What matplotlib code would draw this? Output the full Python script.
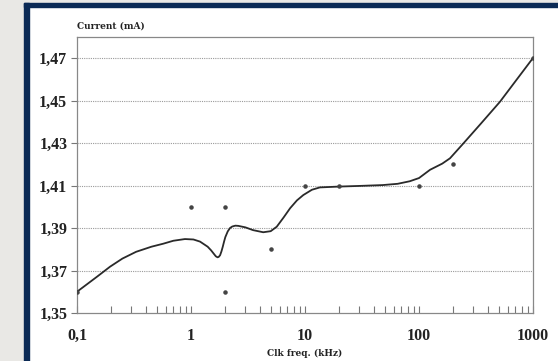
import matplotlib.pyplot as plt
from matplotlib.patches import Rectangle
from matplotlib.ticker import FixedLocator, LogLocator, NullFormatter

# measured points (dots)
pts_freq = [0.1, 1, 2, 2, 5, 10, 20, 100, 200, 1000]
pts_current = [1.36, 1.40, 1.40, 1.36, 1.38, 1.41, 1.41, 1.41, 1.42, 1.47]

# fitted curve
curve_freq = [0.1, 0.15, 0.195, 0.25, 0.33, 0.45, 0.57, 0.7, 0.885, 1.05, 1.2,
              1.4, 1.5, 1.6, 1.65, 1.71, 1.75, 1.8, 1.85, 1.9, 1.95, 2.0, 2.1,
              2.2, 2.3, 2.45, 2.6, 3.0, 3.5, 4.3, 5.0, 5.65, 6.5, 7.4, 8.5,
              9.66, 11.5, 13.5, 20, 30, 48, 65, 83, 100, 125, 160, 187, 245,
              350, 513, 700, 1000]
curve_current = [1.3600, 1.3671, 1.3718, 1.3756, 1.3788, 1.3812, 1.3826, 1.3840,
                 1.3848, 1.3846, 1.3836, 1.3812, 1.3795, 1.3776, 1.3767, 1.3762,
                 1.3764, 1.3772, 1.3790, 1.3812, 1.3836, 1.3857, 1.3884,
                 1.3900, 1.3907, 1.3911, 1.3910, 1.3903, 1.3890, 1.3880, 1.3885,
                 1.3906, 1.3950, 1.3993, 1.4030, 1.4055, 1.4080, 1.4091, 1.4095,
                 1.4098, 1.4102, 1.4108, 1.4120, 1.4135, 1.4174, 1.4203, 1.4228,
                 1.4298, 1.4392, 1.4494, 1.4590, 1.4700]

y_ticks = [1.35, 1.37, 1.39, 1.41, 1.43, 1.45, 1.47]
y_labels = ['1,35', '1,37', '1,39', '1,41', '1,43', '1,45', '1,47']
x_ticks = [0.1, 1, 10, 100, 1000]
x_labels = ['0,1', '1', '10', '100', '1000']

W, H = 558, 361
fig = plt.figure(figsize=(W / 100, H / 100), dpi=100)
fig.patch.set_facecolor('white')

# background and navy frame
fig.patches.append(Rectangle((0, 0), 24 / W, 1, transform=fig.transFigure,
                             color='#e9e8e5', zorder=0))
fig.patches.append(Rectangle((24 / W, 1 - 3 / H), 1, 3 / H, transform=fig.transFigure,
                             color='#e9e8e5', zorder=0))
fig.patches.append(Rectangle((24 / W, 0), 5 / W, 1 - 3 / H, transform=fig.transFigure,
                             color='#0b2a55', zorder=1))
fig.patches.append(Rectangle((24 / W, 1 - 7 / H), 1, 4 / H, transform=fig.transFigure,
                             color='#0b2a55', zorder=1))

ax = fig.add_axes([77 / W, 1 - 313 / H, (533 - 77) / W, (313 - 37) / H])
ax.set_xscale('log')
ax.set_xlim(0.1, 1000)
ax.set_ylim(1.35, 1.35 + 0.02 * (313 - 37) / 42.5)

for v in y_ticks[1:]:
    ax.axhline(v, color='#9a9a9a', lw=0.8, ls=(0, (1, 1)), zorder=1)

ax.plot(curve_freq, curve_current, color='#2a2a2a', lw=1.3, zorder=3)
ax.scatter(pts_freq, pts_current, s=5, color='#444444', zorder=4)

ax.set_yticks(y_ticks)
ax.set_yticklabels(y_labels, fontfamily='Liberation Serif', fontweight='bold',
                   fontsize=11.5, color='#222222')
ax.xaxis.set_major_locator(FixedLocator(x_ticks))
ax.xaxis.set_minor_locator(LogLocator(base=10, subs=range(2, 10)))
ax.xaxis.set_minor_formatter(NullFormatter())
ax.set_xticklabels(x_labels, fontfamily='Liberation Serif', fontweight='bold',
                   fontsize=11.5, color='#222222')

ax.tick_params(axis='y', direction='out', length=4, width=0.8, color='#777777', pad=3)
ax.tick_params(axis='x', which='both', direction='in', length=5, width=0.8,
               color='#777777', pad=11)

for s in ax.spines.values():
    s.set_color('#888888')
    s.set_linewidth(0.9)

fig.text(77 / W, 1 - 26 / H, 'Current (mA)', fontfamily='DejaVu Serif',
         fontweight='bold', fontsize=6.5, color='#222222', va='center', ha='left')
fig.text(305 / W, 1 - 353 / H, 'Clk freq. (kHz)', fontfamily='DejaVu Serif',
         fontweight='bold', fontsize=6.5, color='#222222', va='center', ha='center')

fig.savefig('out.png', dpi=100)
